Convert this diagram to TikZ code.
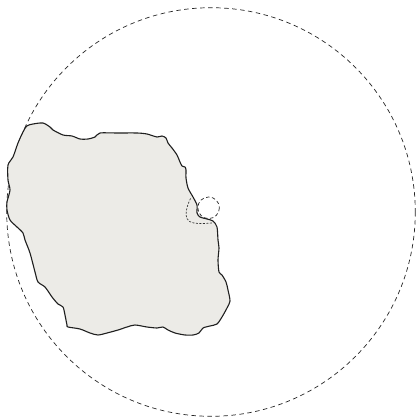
\documentclass[tikz,border=0pt]{standalone}
\begin{document}
\begin{tikzpicture}[x=1pt,y=-1pt,
  blob/.style={draw=black!88,line width=1.1pt,fill=blobfill,line join=round},
  bigring/.style={draw=black!85,line width=0.7pt,dash pattern=on 4.5pt off 3.5pt},
  smallring/.style={draw=black!85,line width=0.7pt,dash pattern=on 3.5pt off 2.5pt},
  dotline/.style={draw=black!80,line width=0.7pt,dash pattern=on 2pt off 1.5pt}]
\definecolor{blobfill}{HTML}{ECEBE7}
\useasboundingbox (0,0) rectangle (416,419);
\fill[white] (0,0) rectangle (416,419);
\draw[bigring] (211,212) circle[radius=204.3];
\draw[blob] plot[smooth cycle,tension=0.45] coordinates {
 (26.7,126) (33,124) (43,123) (50,127) (53,130) (63,135) (72,136) (80,139)
 (88,139) (95,137) (100,133) (117,133) (137,133) (147,134) (157,137) (162,136)
 (166,138) (168,143) (172,148) (177,155) (180,162) (182,166) (185,167) (186,170)
 (186,178) (188,188) (193,197) (197,205) (197,213) (200,217) (207,219) (213,221)
 (217,227) (218,240) (219,248) (218,260) (219,272) (222,275) (226,282) (228,290)
 (230,301) (227,308) (222,317) (217,324) (210,326) (203,328) (199,333) (193,335)
 (185,335) (175,333) (168,330) (163,327) (157,328) (147,327) (135,325) (127,327)
 (118,330) (107,333) (98,335) (90,333) (80,329) (68,327) (67,325) (65,315)
 (63,307) (58,304) (52,297) (45,287) (38,282) (35,272) (30,253) (25,240)
 (23,233) (17,227) (10,220) (7,210) (7,202) (10,190) (8,180) (8,165)
 (13,157) (18,143) (23,132)};
\draw[smallring] (208.6,207.8) circle[radius=10.8];
\draw[dotline] plot[smooth,tension=0.6] coordinates {
 (190.5,198.5) (187.5,206) (186,215) (189.5,221.5) (199,223.5) (212,223)};
\end{tikzpicture}
\end{document}
